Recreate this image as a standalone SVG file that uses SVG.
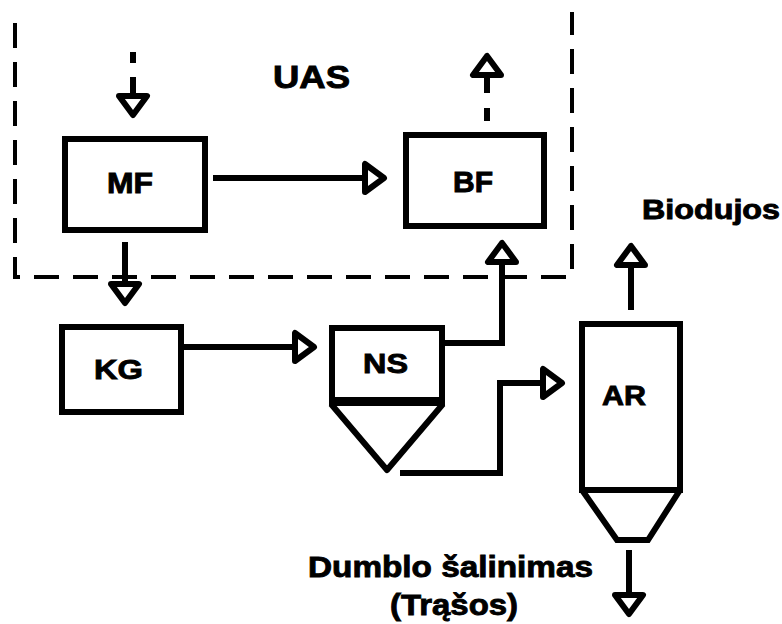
<svg xmlns="http://www.w3.org/2000/svg" xmlns:xlink="http://www.w3.org/1999/xlink" width="782" height="624" viewBox="0 0 782 624">
<style>
.box{fill:#fff;stroke:#000;stroke-width:6}
.ln{fill:none;stroke:#000;stroke-width:6}
.bd{fill:none;stroke:#000;stroke-width:4;stroke-dasharray:25 14}
.ah{fill:#fff;stroke:#000;stroke-width:6;stroke-linejoin:round}
text{font-family:"Liberation Sans",Arial,sans-serif;font-weight:bold;fill:#000;stroke:#000;stroke-width:0.9}
</style>
<defs>
<path id="ah" class="ah" d="M0,0 L-19,-14 L-19,14 Z"/>
</defs>
<rect width="782" height="624" fill="#fff"/>
<g id="uas">
<path class="bd" d="M15,23 V277 H572 V12"/>
<text x="273" y="88" font-size="32" textLength="77" lengthAdjust="spacingAndGlyphs">UAS</text>
</g>
<g id="connectors">
<path class="ln" d="M133,52 V63 M133,77 V97"/>
<use xlink:href="#ah" href="#ah" transform="translate(133,115) rotate(90)"/>
<path class="ln" d="M125,242 V286"/>
<use xlink:href="#ah" href="#ah" transform="translate(125,303) rotate(90)"/>
<path class="ln" d="M213,178 H366"/>
<use xlink:href="#ah" href="#ah" transform="translate(384,178)"/>
<path class="ln" d="M487,121 V108 M487,93 V74"/>
<use xlink:href="#ah" href="#ah" transform="translate(487,56) rotate(-90)"/>
<path class="ln" d="M445,343 H502 V261"/>
<use xlink:href="#ah" href="#ah" transform="translate(502,243) rotate(-90)"/>
<path class="ln" d="M184,347 H296"/>
<use xlink:href="#ah" href="#ah" transform="translate(314,347)"/>
<path class="ln" d="M400,473 H500 V383 H544"/>
<use xlink:href="#ah" href="#ah" transform="translate(562,383)"/>
<path class="ln" d="M631,310 V264"/>
<use xlink:href="#ah" href="#ah" transform="translate(631,246) rotate(-90)"/>
<path class="ln" d="M629,550 V596"/>
<use xlink:href="#ah" href="#ah" transform="translate(629,614) rotate(90)"/>
</g>
<g id="MF">
<rect class="box" x="65" y="139" width="140" height="91"/>
<text x="107" y="193" font-size="29" textLength="46" lengthAdjust="spacingAndGlyphs">MF</text>
</g>
<g id="BF">
<rect class="box" x="406" y="135" width="138" height="91"/>
<text x="453" y="192" font-size="29" textLength="40" lengthAdjust="spacingAndGlyphs">BF</text>
</g>
<g id="KG">
<rect class="box" x="62" y="327" width="119" height="85"/>
<text x="94" y="379" font-size="28" textLength="49" lengthAdjust="spacingAndGlyphs">KG</text>
</g>
<g id="NS">
<rect class="box" x="332" y="328" width="110" height="72"/>
<path class="ln" d="M329,403 H445"/>
<path class="ln" stroke-linejoin="round" d="M331,404 L387,470 L443,404"/>
<text x="363" y="373" font-size="28" textLength="45" lengthAdjust="spacingAndGlyphs">NS</text>
</g>
<g id="AR">
<rect class="box" x="582" y="324" width="98" height="166"/>
<path class="ln" d="M582,490 L617,540 H648 L680,490"/>
<text x="602" y="405" font-size="28" textLength="44" lengthAdjust="spacingAndGlyphs">AR</text>
</g>
<g id="labels">
<text x="642" y="219" font-size="27" textLength="138" lengthAdjust="spacingAndGlyphs">Biodujos</text>
<text x="308" y="577" font-size="30" textLength="285" lengthAdjust="spacingAndGlyphs">Dumblo šalinimas</text>
<text x="390" y="615" font-size="30" textLength="128" lengthAdjust="spacingAndGlyphs">(Trąšos)</text>
</g>
</svg>
